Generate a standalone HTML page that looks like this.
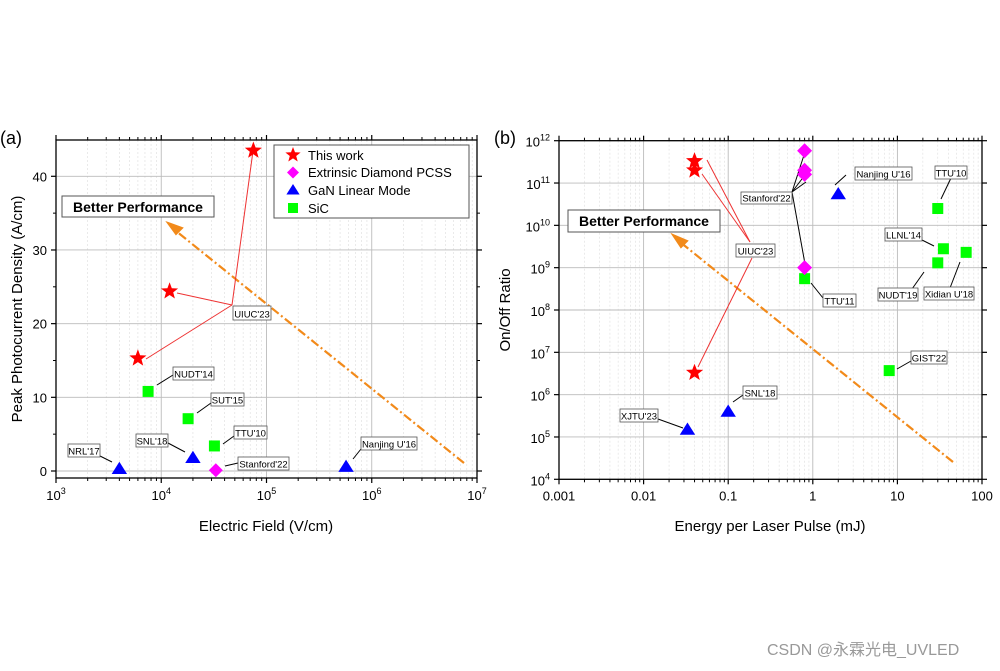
<!DOCTYPE html>
<html><head><meta charset="utf-8">
<style>
body{margin:0;background:#fff;width:1000px;height:666px;overflow:hidden;font-family:"Liberation Sans",Arial,sans-serif}
svg text{font-family:"Liberation Sans",Arial,sans-serif}
</style></head>
<body>
<svg id="chart" width="1000" height="666" viewBox="0 0 1000 666" xmlns="http://www.w3.org/2000/svg"></svg>
<div style="position:absolute;left:767px;top:636px;font-size:16px;color:#999;font-family:'Liberation Sans','Noto Sans CJK SC',sans-serif">CSDN @永霖光电_UVLED</div>
<script>
// ---- Panel (a) data ----
const aStarX=[6000,12000,75000];
const aStarY=[15.3,24.4,43.5];
const aDiaX=[33000];
const aDiaY=[0.1];
const aTriX=[4000,20000,570000];
const aTriY=[0.3,1.8,0.6];
const aSqX=[7500,18000,32000];
const aSqY=[10.8,7.1,3.4];
const aYTicks=[0,10,20,30,40];
const aXTicks=[3,4,5,6,7];
// ---- Panel (b) data ----
const bStarX=[0.04,0.04,0.04];
const bStarY=[3.3e6,2e11,3.3e11];
const bDiaX=[0.8,0.8,0.8,0.8];
const bDiaY=[1e9,1.6e11,2e11,5.8e11];
const bTriX=[0.033,0.1,2];
const bTriY=[1.5e5,4e5,5.5e10];
const bSqX=[0.8,30,35,30,65,8];
const bSqY=[5.5e8,2.5e10,2.8e9,1.3e9,2.3e9,3.7e6];
const bXTickLabels=["0.001","0.01","0.1","1","10","100"];
const bYTicks=[4,5,6,7,8,9,10,11,12];

const NS="http://www.w3.org/2000/svg";
const svg=document.getElementById('chart');
function el(tag,attrs,parent,name,inter){
  const e=document.createElementNS(NS,tag);
  for(const k in attrs)e.setAttribute(k,attrs[k]);
  
  
  (parent||svg).appendChild(e);return e;
}
const ax={L:56,R:477,T:140,B:478};
const axX=v=>ax.L+(Math.log10(v)-3)*(ax.R-ax.L)/4;
const axY=v=>471-(v)*(471-176.3)/40;
const bx={L:559,R:982,T:140.7,B:479.3};
const bxX=v=>bx.L+(Math.log10(v)+3)*(bx.R-bx.L)/5;
const bxY=v=>bx.B-(Math.log10(v)-4)*(bx.B-bx.T)/8;

function star(cx,cy,r,parent,name){
  let p=[];for(let i=0;i<10;i++){const a=-Math.PI/2+i*Math.PI/5;const rr=i%2?r*0.42:r;p.push((cx+rr*Math.cos(a)).toFixed(1)+','+(cy+rr*Math.sin(a)).toFixed(1));}
  el('polygon',{points:p.join(' '),fill:'#f00'},parent,name);
}
function dia(cx,cy,r,parent,name){el('polygon',{points:`${cx},${cy-r} ${cx+r},${cy} ${cx},${cy+r} ${cx-r},${cy}`,fill:'#f0f'},parent,name);}
function tri(cx,cy,r,parent,name){el('polygon',{points:`${cx},${cy-r} ${cx+r*1.1},${cy+r*0.75} ${cx-r*1.1},${cy+r*0.75}`,fill:'#00f'},parent,name);}
function sq(cx,cy,r,parent,name){el('rect',{x:cx-r,y:cy-r,width:2*r,height:2*r,fill:'#0f0'},parent,name);}
function txt(x,y,s,size,parent,name,anchor,extra){const t=el('text',Object.assign({x:x,y:y,'font-size':size,'text-anchor':anchor||'start',fill:'#000'},extra||{}),parent,name);t.textContent=s;return t;}
function boxLabel(x1,y1,x2,y2,s,parent,name){
  const g=el('g',{},parent,name);
  el('rect',{x:x1,y:y1,width:x2-x1,height:y2-y1,fill:'#fff',stroke:'#555','stroke-width':0.8},g,name+'-box');
  txt((x1+x2)/2,y2-2.5,s,9.5,g,name+'-text','middle');
}
function line(x1,y1,x2,y2,c,w,parent,name,dash){const a={x1,y1,x2,y2,stroke:c,'stroke-width':w};if(dash)a['stroke-dasharray']=dash;el('line',a,parent,name);}

// ===== Panel A =====
const gA=el('g',{},svg,'panel-a');
const gridA=el('g',{},gA,'grid-a');
for(let d=3;d<7;d++)for(let m=2;m<10;m++){const x=axX(m*Math.pow(10,d));line(x,ax.T,x,ax.B,'#ddd',0.6,gridA,'minor-grid-x','2,2');}
for(let d=4;d<7;d++){const x=axX(Math.pow(10,d));line(x,ax.T,x,ax.B,'#bbb',0.9,gridA,'major-grid-x');}
for(let v=0;v<=40;v+=10){line(ax.L,axY(v),ax.R,axY(v),'#bbb',0.9,gridA,'major-grid-y');}
el('rect',{x:ax.L,y:ax.T,width:ax.R-ax.L,height:ax.B-ax.T,fill:'none',stroke:'#000','stroke-width':1.3},gA,'plot-frame-a');
aXTicks.forEach(d=>{const x=axX(Math.pow(10,d));line(x,ax.B,x,ax.B+5,'#000',1.2,gA,'x-tick-a');line(x,ax.T,x,ax.T-5,'#000',1.2,gA,'x-tick-top-a');
  const t=txt(x,ax.B+22,'10',13,gA,'x-tick-label-a','middle');const s=document.createElementNS(NS,'tspan');s.setAttribute('dy','-6');s.setAttribute('font-size','9');s.textContent=d;t.appendChild(s);});
for(let d=3;d<7;d++)for(let m=2;m<10;m++){const x=axX(m*Math.pow(10,d));line(x,ax.B,x,ax.B+3,'#000',1,gA,'minor-tick-a');line(x,ax.T,x,ax.T-3,'#000',1,gA,'minor-tick-top-a');}
aYTicks.forEach(v=>{const y=axY(v);line(ax.L,y,ax.L-5,y,'#000',1.2,gA,'y-tick-a');line(ax.R,y,ax.R+5,y,'#000',1.2,gA,'y-tick-right-a');txt(ax.L-9,y+5,String(v),13,gA,'y-tick-label-a','end');});
for(let v=5;v<45;v+=10){const y=axY(v);line(ax.L,y,ax.L-3,y,'#000',1,gA,'y-minor-tick-a');line(ax.R,y,ax.R+3,y,'#000',1,gA,'y-minor-tick-right-a');}
txt(266,531,'Electric Field (V/cm)',15,gA,'x-axis-title-a','middle');
txt(22,309,'Peak Photocurrent Density (A/cm)',15,gA,'y-axis-title-a','middle',{transform:'rotate(-90 22 309)'});
txt(0,144,'(a)',18,gA,'panel-label-a');
line(464,463,176,231,'#f28a1a',2.2,gA,'better-arrow-a','9,3,2,3');
el('polygon',{points:'168,223 182,228 176,234',fill:'#f28a1a',stroke:'#f28a1a','stroke-width':2},gA,'arrow-head-a');
const bpA=el('g',{},gA,'better-performance-a');
el('rect',{x:62,y:196,width:152,height:21,fill:'#fff',stroke:'#555','stroke-width':1},bpA,'better-box-a');
txt(138,212,'Better Performance',14,bpA,'better-text-a','middle',{'font-weight':'bold'});
line(232,305,253,151,'#e33',1,gA,'uiuc-line-a');line(232,305,177,293,'#e33',1,gA,'uiuc-line-a');line(232,305,146,359,'#e33',1,gA,'uiuc-line-a');
line(157,385,173,375,'#000',1,gA,'nudt-line');line(197,413,211,403,'#000',1,gA,'sut-line');line(223,444,234,436,'#000',1,gA,'ttu-line');
line(225,466,238,463,'#000',1,gA,'stanford-line');line(168,443,185,452,'#000',1,gA,'snl-line');line(100,456,112,462,'#000',1,gA,'nrl-line');line(353,459,361,449,'#000',1,gA,'nanjing-line');
aSqX.forEach((v,i)=>sq(axX(v),axY(aSqY[i]),5.5,gA,'sic-point-a'));
aTriX.forEach((v,i)=>tri(axX(v),axY(aTriY[i]),7,gA,'gan-point-a'));
aDiaX.forEach((v,i)=>dia(axX(v),axY(aDiaY[i]),7,gA,'diamond-point-a'));
aStarX.forEach((v,i)=>star(axX(v),axY(aStarY[i]),9,gA,'this-work-point-a'));
boxLabel(233,306,271,320,"UIUC'23",gA,'uiuc-label-a');
boxLabel(173,367,214,380,"NUDT'14",gA,'nudt14-label');
boxLabel(211,393,244,406,"SUT'15",gA,'sut15-label');
boxLabel(234,426,267,439,"TTU'10",gA,'ttu10-label-a');
boxLabel(238,457,289,470,"Stanford'22",gA,'stanford-label-a');
boxLabel(136,434,168,447,"SNL'18",gA,'snl18-label-a');
boxLabel(68,444,100,457,"NRL'17",gA,'nrl17-label');
boxLabel(361,437,417,450,"Nanjing U'16",gA,'nanjing-label-a');
const lg=el('g',{},gA,'legend');
el('rect',{x:274,y:145,width:195,height:73,fill:'#fff',stroke:'#555','stroke-width':1},lg,'legend-box');
star(293,155,8,lg,'legend-star');txt(308,160,'This work',13,lg,'legend-this-work');
dia(293,172.5,6,lg,'legend-diamond');txt(308,177,'Extrinsic Diamond PCSS',13,lg,'legend-diamond-text');
tri(293,190,6,lg,'legend-triangle');txt(308,195,'GaN Linear Mode',13,lg,'legend-gan-text');
sq(293,208,5,lg,'legend-square');txt(308,213,'SiC',13,lg,'legend-sic-text');

// ===== Panel B =====
const gB=el('g',{},svg,'panel-b');
const gridB=el('g',{},gB,'grid-b');
for(let d=-3;d<2;d++)for(let m=2;m<10;m++){const x=bxX(m*Math.pow(10,d));line(x,bx.T,x,bx.B,'#ddd',0.6,gridB,'minor-grid-x-b','2,2');}
for(let d=-2;d<2;d++){const x=bxX(Math.pow(10,d));line(x,bx.T,x,bx.B,'#bbb',0.9,gridB,'major-grid-x-b');}
bYTicks.forEach(d=>{const y=bxY(Math.pow(10,d));line(bx.L,y,bx.R,y,'#bbb',0.9,gridB,'major-grid-y-b');});
el('rect',{x:bx.L,y:bx.T,width:bx.R-bx.L,height:bx.B-bx.T,fill:'none',stroke:'#000','stroke-width':1.3},gB,'plot-frame-b');
bXTickLabels.forEach((s,i)=>{const x=bxX(Math.pow(10,i-3));line(x,bx.B,x,bx.B+5,'#000',1.2,gB,'x-tick-b');line(x,bx.T,x,bx.T-5,'#000',1.2,gB,'x-tick-top-b');txt(x,bx.B+21,s,13,gB,'x-tick-label-b','middle');});
for(let d=-3;d<2;d++)for(let m=2;m<10;m++){const x=bxX(m*Math.pow(10,d));line(x,bx.B,x,bx.B+3,'#000',1,gB,'minor-tick-b');line(x,bx.T,x,bx.T-3,'#000',1,gB,'minor-tick-top-b');}
bYTicks.forEach(d=>{const y=bxY(Math.pow(10,d));line(bx.L,y,bx.L-5,y,'#000',1.2,gB,'y-tick-b');line(bx.R,y,bx.R+5,y,'#000',1.2,gB,'y-tick-right-b');
  const t=txt(bx.L-9,y+6,'10',13,gB,'y-tick-label-b','end');const s=document.createElementNS(NS,'tspan');s.setAttribute('dy','-6');s.setAttribute('font-size','9');s.textContent=d;t.appendChild(s);});
txt(770,531,'Energy per Laser Pulse (mJ)',15,gB,'x-axis-title-b','middle');
txt(510,310,'On/Off Ratio',15,gB,'y-axis-title-b','middle',{transform:'rotate(-90 510 310)'});
txt(494,144,'(b)',18,gB,'panel-label-b');
line(953,462,680,242,'#f28a1a',2.2,gB,'better-arrow-b','9,3,2,3');
el('polygon',{points:'673,235 687,241 681,247',fill:'#f28a1a',stroke:'#f28a1a','stroke-width':2},gB,'arrow-head-b');
const bpB=el('g',{},gB,'better-performance-b');
el('rect',{x:568,y:210,width:152,height:22,fill:'#fff',stroke:'#555','stroke-width':1},bpB,'better-box-b');
txt(644,226,'Better Performance',14,bpB,'better-text-b','middle',{'font-weight':'bold'});
line(750,242,707,160,'#e33',1,gB,'uiuc-line-b');line(750,242,702,174,'#e33',1,gB,'uiuc-line-b');line(752,258,698,367,'#e33',1,gB,'uiuc-line-b');
line(792,192,805,152,'#000',1,gB,'stanford-line-b');line(792,192,805,175,'#000',1,gB,'stanford-line-b');line(792,192,806,182,'#000',1,gB,'stanford-line-b');line(792,192,805,264,'#000',1,gB,'stanford-line-b');
line(835,185,846,175,'#000',1,gB,'nanjing-line-b');line(941,199,951,178,'#000',1,gB,'ttu10-line-b');line(922,240,934,246,'#000',1,gB,'llnl-line');
line(912,289,924,272,'#000',1,gB,'nudt19-line');line(950,288,960,262,'#000',1,gB,'xidian-line');line(811,283,823,298,'#000',1,gB,'ttu11-line');
line(897,369,911,361,'#000',1,gB,'gist-line');line(733,402,743,395,'#000',1,gB,'snl-line-b');line(658,419,683,428,'#000',1,gB,'xjtu-line');
bSqX.forEach((v,i)=>sq(bxX(v),bxY(bSqY[i]),5.5,gB,'sic-point-b'));
bTriX.forEach((v,i)=>tri(bxX(v),bxY(bTriY[i]),7,gB,'gan-point-b'));
bDiaX.forEach((v,i)=>dia(bxX(v),bxY(bDiaY[i]),7.5,gB,'diamond-point-b'));
bStarX.forEach((v,i)=>star(bxX(v),bxY(bStarY[i]),9,gB,'this-work-point-b'));
boxLabel(741,192,792,204,"Stanford'22",gB,'stanford-label-b');
boxLabel(736,244,775,257,"UIUC'23",gB,'uiuc-label-b');
boxLabel(855,167,912,180,"Nanjing U'16",gB,'nanjing-label-b');
boxLabel(935,166,967,179,"TTU'10",gB,'ttu10-label-b');
boxLabel(885,228,922,241,"LLNL'14",gB,'llnl14-label');
boxLabel(878,288,918,301,"NUDT'19",gB,'nudt19-label');
boxLabel(924,287,974,300,"Xidian U'18",gB,'xidian-label');
boxLabel(823,294,856,307,"TTU'11",gB,'ttu11-label');
boxLabel(911,351,947,364,"GIST'22",gB,'gist22-label');
boxLabel(743,386,777,399,"SNL'18",gB,'snl18-label-b');
boxLabel(620,409,658,422,"XJTU'23",gB,'xjtu23-label');
</script>
</body></html>
